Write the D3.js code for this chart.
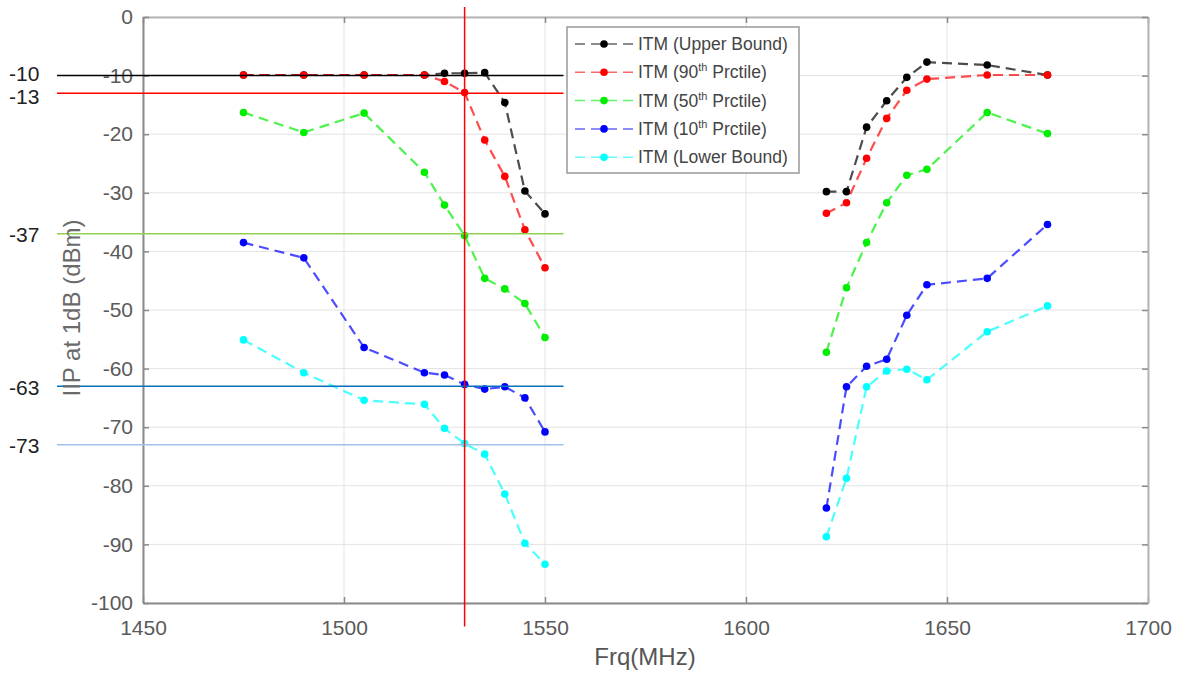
<!DOCTYPE html>
<html>
<head>
<meta charset="utf-8">
<script src="https://cdnjs.cloudflare.com/ajax/libs/d3/7.8.5/d3.min.js"></script>
<style>
  body { margin: 0; background: #fff; }
  svg { display: block; font-family: Arial, "Liberation Sans", sans-serif; }
  .tick-label { fill: #5a5a5a; font-size: 21px; }
  .ref-label { fill: #222; font-size: 21px; }
  .legend-text { fill: #444; font-size: 17.5px; }
</style>
</head>
<body>
<svg id="chart" width="1179" height="675"></svg>
<script>
// frequencies (MHz), two bands
const freqLow = [1475, 1490, 1505, 1520, 1525, 1530, 1535, 1540, 1545, 1550];
const freqHigh = [1620, 1625, 1630, 1635, 1640, 1645, 1660, 1675];

// IIP at 1dB (dBm) per series, low band then high band
const upperLow = [-9.9, -9.9, -9.9, -9.9, -9.6, -9.6, -9.5, -14.6, -29.7, -33.6];
const upperHigh = [-29.8, -29.8, -18.8, -14.3, -10.3, -7.7, -8.2, -9.9];
const p90Low = [-9.9, -9.9, -9.9, -9.9, -11.0, -12.9, -21.0, -27.2, -36.3, -42.8];
const p90High = [-33.5, -31.7, -24.1, -17.3, -12.5, -10.6, -9.9, -9.9];
const p50Low = [-16.3, -19.7, -16.4, -26.5, -32.1, -37.3, -44.6, -46.4, -48.9, -54.7];
const p50High = [-57.2, -46.2, -38.5, -31.7, -27.0, -26.0, -16.3, -19.9];
const p10Low = [-38.5, -41.1, -56.4, -60.7, -61.1, -62.7, -63.5, -63.1, -65.0, -70.8];
const p10High = [-83.8, -63.1, -59.6, -58.4, -50.9, -45.7, -44.6, -35.4];
const lowerLow = [-55.1, -60.7, -65.4, -66.1, -70.2, -72.8, -74.6, -81.4, -89.8, -93.4];
const lowerHigh = [-88.7, -78.7, -63.1, -60.4, -60.1, -61.9, -53.7, -49.3];

const seriesNames = ['ITM (Upper Bound)', 'ITM (90th Prctile)', 'ITM (50th Prctile)', 'ITM (10th Prctile)', 'ITM (Lower Bound)'];
const seriesColors = ['#000000', '#ff0000', '#00ee00', '#0000ff', '#00ffff'];

const xTicks = [1450, 1500, 1550, 1600, 1650, 1700];
const yTicks = [0, -10, -20, -30, -40, -50, -60, -70, -80, -90, -100];

// reference levels drawn across the low band
const refLevels = [-10, -13, -37, -63, -73];
const refColors = ['#000000', '#ff0000', '#8fd14f', '#0070c0', '#9dc3e6'];
const markerFreq = 1530;

const series = [
  [upperLow, upperHigh], [p90Low, p90High], [p50Low, p50High], [p10Low, p10High], [lowerLow, lowerHigh]
].map((pair, i) => ({
  name: seriesNames[i],
  color: seriesColors[i],
  points: freqLow.map((f, j) => ({ f: f, v: pair[0][j] }))
    .concat([{ f: null, v: null }])
    .concat(freqHigh.map((f, j) => ({ f: f, v: pair[1][j] })))
}));

const margin = { top: 17, left: 143, right: 31, bottom: 72 };
const svg = d3.select('#chart');
const W = +svg.attr('width'), H = +svg.attr('height');
const width = W - margin.left - margin.right;
const height = H - margin.top - margin.bottom;

const x = d3.scaleLinear().domain([1450, 1700]).range([0, width]);
const y = d3.scaleLinear().domain([-100, 0]).range([height, 0]);

const g = svg.append('g').attr('transform', `translate(${margin.left},${margin.top})`);

// grid
g.append('g').selectAll('line').data(xTicks).enter().append('line')
  .attr('x1', d => x(d)).attr('x2', d => x(d))
  .attr('y1', 0).attr('y2', height)
  .attr('stroke', '#e3e3e3').attr('stroke-width', 1);
g.append('g').selectAll('line').data(yTicks).enter().append('line')
  .attr('x1', 0).attr('x2', width)
  .attr('y1', d => y(d)).attr('y2', d => y(d))
  .attr('stroke', '#e3e3e3').attr('stroke-width', 1);

// axes (matlab style: ticks inside, box all round)
const axisColor = '#8a8a8a';
const fmt = d => String(d);
const xAxis = g.append('g').attr('transform', `translate(0,${height})`)
  .call(d3.axisBottom(x).tickValues(xTicks).tickSizeInner(-6).tickSizeOuter(0).tickPadding(17).tickFormat(fmt));
const xTop = g.append('g')
  .call(d3.axisTop(x).tickValues(xTicks).tickSizeInner(-6).tickSizeOuter(0).tickFormat(''));
const yAxis = g.append('g')
  .call(d3.axisLeft(y).tickValues(yTicks).tickSizeInner(-6).tickSizeOuter(0).tickPadding(10).tickFormat(fmt));
const yRight = g.append('g').attr('transform', `translate(${width},0)`)
  .call(d3.axisRight(y).tickValues(yTicks).tickSizeInner(-6).tickSizeOuter(0).tickFormat(''));

[xAxis, xTop, yAxis, yRight].forEach(a => {
  a.select('.domain').attr('stroke', axisColor).attr('stroke-width', 2);
  a.selectAll('.tick line').attr('stroke', axisColor).attr('stroke-width', 1.5);
  a.selectAll('.tick text').attr('class', 'tick-label').attr('font-family', null).attr('font-size', null);
});
xTop.select('.domain').attr('stroke', '#b5b5b5');
yRight.select('.domain').attr('stroke', '#b5b5b5');

// series
const line = d3.line()
  .defined(d => d.f !== null)
  .x(d => x(d.f))
  .y(d => y(d.v));

const sg = g.append('g').selectAll('g').data(series).enter().append('g');
sg.append('path')
  .attr('d', d => line(d.points))
  .attr('fill', 'none')
  .attr('stroke', d => d.color)
  .attr('stroke-opacity', 0.7)
  .attr('stroke-width', 2.2)
  .attr('stroke-dasharray', '10,6');
sg.selectAll('circle').data(d => d.points.filter(p => p.f !== null).map(p => ({ p: p, c: d.color })))
  .enter().append('circle')
  .attr('cx', d => x(d.p.f)).attr('cy', d => y(d.p.v))
  .attr('r', 3.8)
  .attr('fill', d => d.c);

// reference lines
const refStart = 1428.6, refEnd = 1554.6;
const refs = svg.append('g');
refs.selectAll('line').data(refLevels).enter().append('line')
  .attr('x1', margin.left + x(refStart)).attr('x2', margin.left + x(refEnd))
  .attr('y1', d => margin.top + y(d)).attr('y2', d => margin.top + y(d))
  .attr('stroke', (d, i) => refColors[i]).attr('stroke-width', 1.5);
refs.selectAll('text').data(refLevels).enter().append('text')
  .attr('class', 'ref-label')
  .attr('x', 9)
  .attr('y', (d, i) => margin.top + y(d) + (i === 0 ? -2 : i === 1 ? 3 : 1))
  .attr('dy', '0.35em')
  .text(d => d);

svg.append('line')
  .attr('x1', margin.left + x(markerFreq)).attr('x2', margin.left + x(markerFreq))
  .attr('y1', margin.top + y(1.7)).attr('y2', margin.top + y(-104))
  .attr('stroke', '#ff0000').attr('stroke-width', 1.5);

// axis titles
svg.append('text')
  .attr('x', 645).attr('y', 665)
  .attr('text-anchor', 'middle')
  .attr('fill', '#555').attr('font-size', 24)
  .text('Frq(MHz)');
svg.append('text')
  .attr('transform', 'translate(80,308) rotate(-90)')
  .attr('text-anchor', 'middle')
  .attr('fill', '#6a6a6a').attr('font-size', 24)
  .text('IIP at 1dB (dBm)');

// legend
const legend = svg.append('g').attr('transform', 'translate(567,27)');
legend.append('rect')
  .attr('width', 232).attr('height', 146)
  .attr('fill', '#fff').attr('stroke', '#999').attr('stroke-width', 1.5);
const items = legend.selectAll('.legend').data(series).enter().append('g')
  .attr('class', 'legend')
  .attr('transform', (d, i) => `translate(0,${17 + i * 28.3})`);
items.append('line')
  .attr('x1', 8).attr('x2', 66)
  .attr('stroke', d => d.color).attr('stroke-opacity', 0.6)
  .attr('stroke-width', 1.5).attr('stroke-dasharray', '10,6');
items.append('circle').attr('cx', 37).attr('r', 3.8).attr('fill', d => d.color);
const txt = items.append('text')
  .attr('class', 'legend-text')
  .attr('x', 71).attr('dy', '0.35em');
txt.each(function(d) {
  const t = d3.select(this);
  const m = d.name.match(/^(.*\d)(th)( .*)$/);
  if (m) {
    t.append('tspan').text(m[1]);
    t.append('tspan').attr('dy', -7).attr('font-size', 11).text(m[2]);
    t.append('tspan').attr('dy', 7).text(m[3]);
  } else {
    t.text(d.name);
  }
});
</script>
</body>
</html>
